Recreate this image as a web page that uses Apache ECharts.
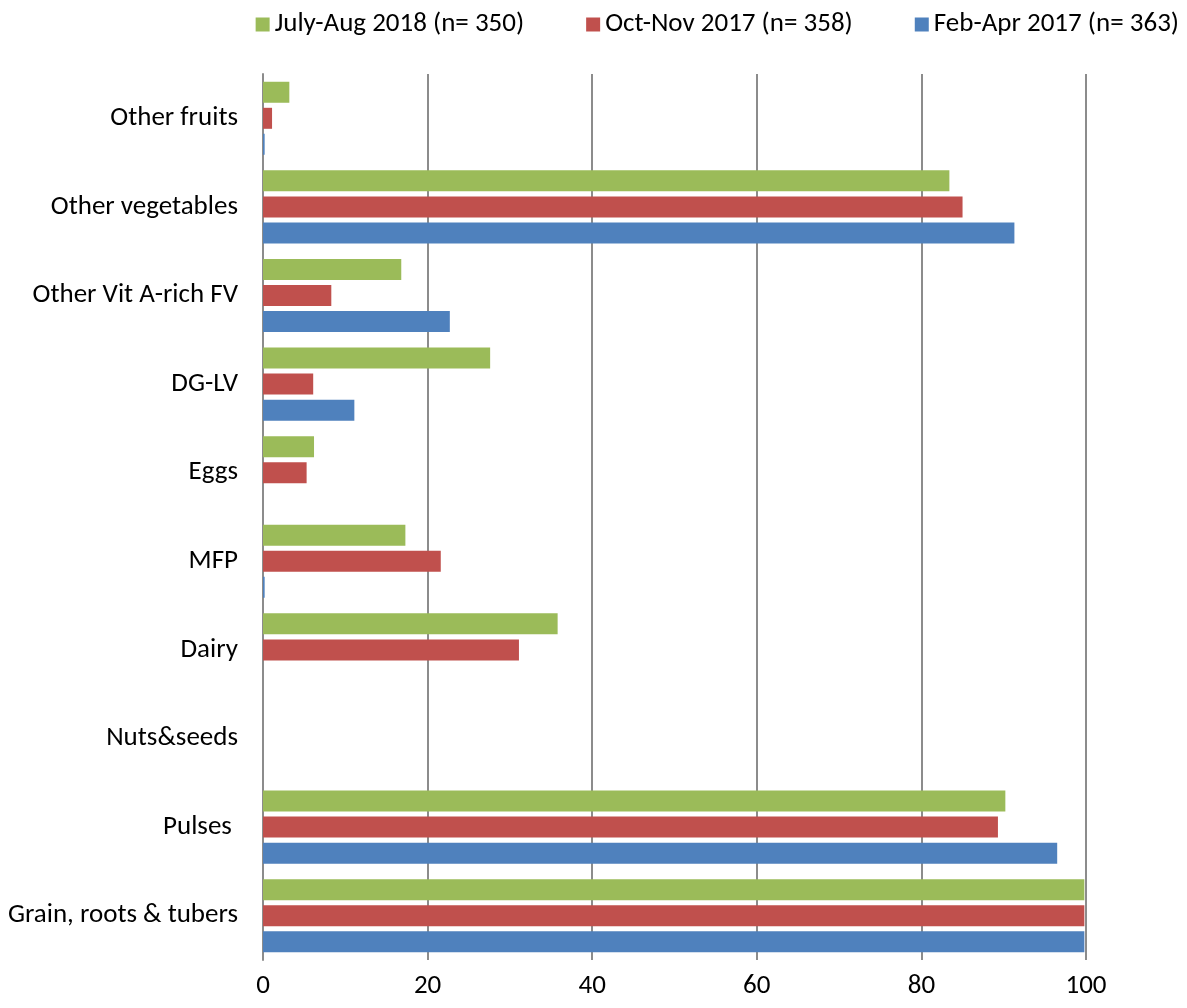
<!DOCTYPE html>
<html>
<head>
<meta charset="utf-8">
<script src="https://cdn.jsdelivr.net/npm/echarts@6/dist/echarts.min.js"></script>
<style>
  html, body { margin: 0; padding: 0; background: #fff; }
  #chart { width: 1187px; height: 1008px; }
</style>
</head>
<body>
<div id="chart"></div>
<script>
// categories, bottom to top
var categories = ["Grain, roots & tubers", "Pulses ", "Nuts&seeds", "Dairy", "MFP", "Eggs",
    "DG-LV", "Other Vit A-rich FV", "Other vegetables", "Other fruits"];
var xTicks = [0, 20, 40, 60, 80, 100];

var julAug2018 = [99.8, 90.2, 0, 35.8, 17.3, 6.2, 27.6, 16.8, 83.4, 3.2];
var octNov2017 = [99.8, 89.3, 0, 31.1, 21.6, 5.3, 6.1, 8.3, 85.0, 1.1];
var febApr2017 = [99.8, 96.5, 0, 0, 0.2, 0, 11.1, 22.7, 91.3, 0.2];

var seriesNames = ["July-Aug 2018 (n= 350)", "Oct-Nov 2017 (n= 358)", "Feb-Apr 2017 (n= 363)"];
var colors = ["#9BBB59", "#C0504D", "#4F81BD"];

var FONT = "Carlito, 'Liberation Sans Narrow', 'Liberation Sans', sans-serif";
var myChart = echarts.init(document.getElementById("chart"));

function barSeries(name, data, color) {
    return {
        name: name,
        type: "bar",
        data: data,
        barWidth: 21,
        barGap: "24%",
        itemStyle: { color: color },
        emphasis: { disabled: true }
    };
}

var option = {
    animation: false,
    textStyle: { fontFamily: FONT },
    legend: {
        data: seriesNames,
        right: 3,
        top: 6,
        itemWidth: 14,
        itemHeight: 14,
        itemGap: 62,
        icon: "rect",
        textStyle: { fontFamily: FONT, fontSize: 27, color: "#000" }
    },
    grid: { left: 263, right: 101, top: 74, bottom: 48 },
    xAxis: {
        type: "value",
        min: xTicks[0],
        max: xTicks[xTicks.length - 1],
        interval: 20,
        axisLine: { show: false },
        axisTick: { show: false },
        splitLine: { lineStyle: { color: "#8c8c8c", width: 2 } },
        axisLabel: { fontFamily: FONT, fontSize: 27, color: "#000", margin: 13 }
    },
    yAxis: {
        type: "category",
        data: categories,
        axisLine: { show: true, lineStyle: { color: "#8c8c8c", width: 2 } },
        axisTick: { show: false },
        axisLabel: { fontFamily: FONT, fontSize: 27, color: "#000", margin: 25 }
    },
    // first series is drawn at the top of each group
    series: [
        barSeries(seriesNames[0], julAug2018, colors[0]),
        barSeries(seriesNames[1], octNov2017, colors[1]),
        barSeries(seriesNames[2], febApr2017, colors[2])
    ]
};

myChart.setOption(option);
window.addEventListener("resize", function () {
    myChart.resize();
});
</script>
</body>
</html>
